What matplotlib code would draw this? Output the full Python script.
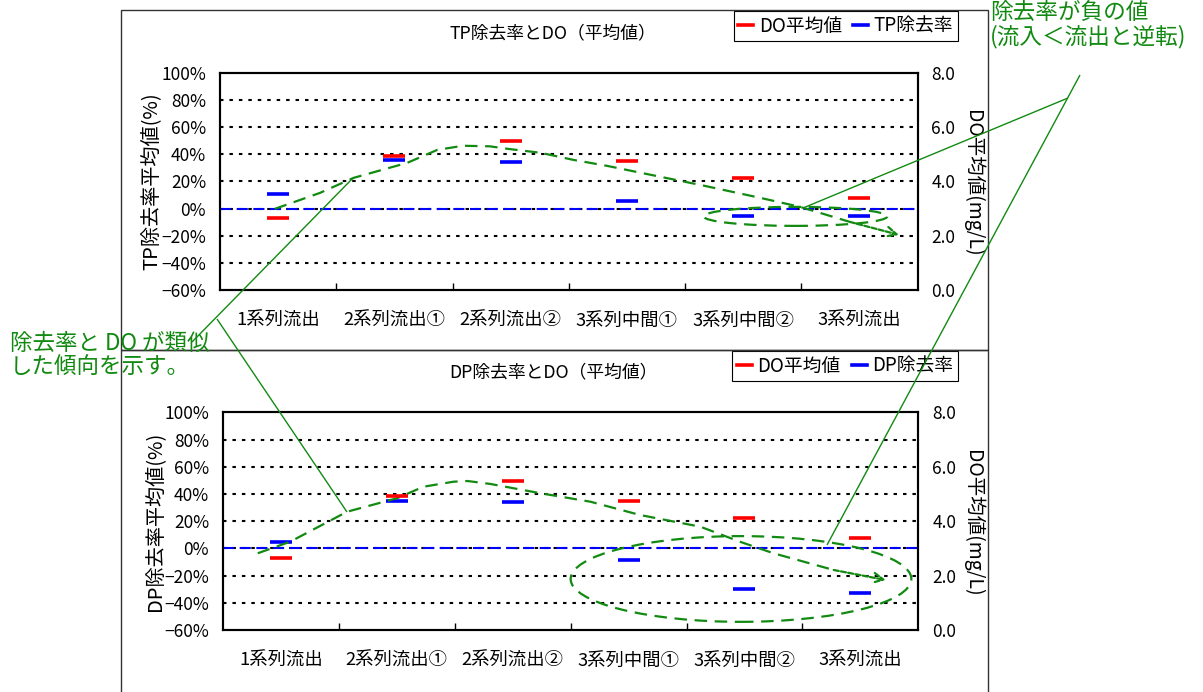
import matplotlib
matplotlib.use('Agg')
import matplotlib.pyplot as plt
from matplotlib.lines import Line2D
from matplotlib.patches import Ellipse, Rectangle
from matplotlib.ticker import FuncFormatter

plt.rcParams['font.family'] = ['Noto Sans CJK JP', 'DejaVu Sans']
plt.rcParams['lines.scale_dashes'] = False

# ---- data -------------------------------------------------------------
categories = ['1系列流出', '2系列流出①', '2系列流出②', '3系列中間①', '3系列中間②', '3系列流出']
do_mean = [2.66, 4.94, 5.48, 4.75, 4.12, 3.38]          # mg/L
tp_removal = [10.4, 36.0, 34.0, 5.8, -5.5, -5.5]         # %
dp_removal = [5.0, 35.0, 34.0, -8.5, -30.0, -32.5]       # %

pct_ticks = list(range(-60, 101, 20))
do_ticks = [0, 2, 4, 6, 8]

# hand-drawn trend sketches (x: category index, y: removal %)
tp_trend_x = [-0.03, 0.36, 0.65, 1.11, 1.37, 1.59, 1.82, 1.97, 2.26, 2.54, 2.83, 3.12, 3.63, 4.15, 4.49, 4.92]
tp_trend_y = [-0.3, 11.5, 22.6, 33.6, 43.2, 46.2, 45.8, 44.0, 41.0, 35.8, 31.4, 26.3, 17.4, 7.8, 1.2, -9.9]
tp_arrow_tip = (5.34, -19.4)
tp_ellipse = dict(xy=(4.45, -5.8), width=1.58, height=14.0)

dp_trend_x = [-0.20, 0.08, 0.57, 1.00, 1.23, 1.49, 1.61, 1.81, 2.24, 2.67, 3.10, 3.62, 3.96, 4.25, 4.77]
dp_trend_y = [-3.6, 4.9, 26.9, 36.8, 45.3, 49.0, 49.5, 47.3, 40.5, 34.3, 24.5, 15.9, 4.9, -3.6, -15.9]
dp_arrow_tip = (5.22, -23.3)
dp_ellipse = dict(xy=(3.97, -22.5), width=2.94, height=63.0)

GREEN = '#128a12'
W, H = 1203, 692

fig = plt.figure(figsize=(W / 100, H / 100), dpi=100)


def frac_rect(left, top, right, bottom):
    return [left / W, 1 - bottom / H, (right - left) / W, (bottom - top) / H]


def pct_fmt(v, _):
    return f'{int(round(v))}%'.replace('-', '\u2212')


def draw_panel(rect, removal, ylabel, tx, ty, tip, ell):
    ax = fig.add_axes(rect)
    ax.set_xlim(-0.5, 5.5)
    ax.set_ylim(-60, 100)
    ax2 = ax.twinx()
    ax2.set_ylim(0, 8)

    ax.set_yticks(pct_ticks)
    ax.yaxis.set_major_formatter(FuncFormatter(pct_fmt))
    ax2.set_yticks(do_ticks)
    ax2.yaxis.set_major_formatter(FuncFormatter(lambda v, _: f'{v:.1f}'))
    ax.tick_params(axis='y', length=0, pad=10, labelsize=12.5)
    ax2.tick_params(axis='y', length=0, pad=10, labelsize=12.5)

    ax.set_xticks([i + 0.5 for i in range(len(categories) - 1)])
    ax.set_xticklabels([])
    ax.set_xticks(range(len(categories)), minor=True)
    ax.set_xticklabels(categories, minor=True)
    ax.tick_params(axis='x', which='major', direction='in', length=5, width=1)
    ax.tick_params(axis='x', which='minor', length=0, pad=16, labelsize=13.2)

    for a in (ax, ax2):
        for s in a.spines.values():
            s.set_linewidth(1.5)
            s.set_color('black')

    for g in pct_ticks[1:-1]:
        ax.axhline(g, color='black', lw=1.5, ls=(0, (2.5, 4.3)), zorder=1)
    ax.axhline(0, color='#0000ff', lw=1.5, ls=(0, (8, 4)), zorder=2)

    ax.plot(range(len(categories)), removal, ls='none', marker='_', ms=16.5,
            mew=2.6, color='#0000ff', zorder=4)
    ax2.plot(range(len(categories)), do_mean, ls='none', marker='_', ms=16.5,
             mew=2.6, color='#ff0000', zorder=4)

    ax.set_ylabel(ylabel, fontsize=14.5, va='center')
    ax.yaxis.set_label_coords(-0.099, 0.5)
    ax2.set_ylabel('DO平均値(mg/L)', rotation=-90, va='center', fontsize=14)
    ax2.yaxis.set_label_coords(1.079, 0.49)

    # trend sketch
    dash = (0, (9, 5.5))
    ax.plot(tx, ty, color=GREEN, lw=1.6, ls=dash, zorder=5, clip_on=False)
    ax.annotate('', xy=tip, xytext=(tx[-1], ty[-1]),
                arrowprops=dict(arrowstyle='->,head_length=0.7,head_width=0.35',
                                color=GREEN, lw=1.6, linestyle='--',
                                shrinkA=0, shrinkB=0), zorder=5)
    ax.add_patch(Ellipse(**ell, fill=False, edgecolor=GREEN, lw=1.6,
                         ls=dash, zorder=5, clip_on=False))
    return ax, ax2


draw_panel(frac_rect(220, 72.7, 917.5, 290), tp_removal,
           'TP除去率平均値(%)', tp_trend_x, tp_trend_y, tp_arrow_tip, tp_ellipse)
draw_panel(frac_rect(223, 412.3, 918.3, 630), dp_removal,
           'DP除去率平均値(%)', dp_trend_x, dp_trend_y, dp_arrow_tip, dp_ellipse)

# overlay in pixel coordinates for frames, titles and callouts
ov = fig.add_axes([0, 0, 1, 1], zorder=10)
ov.set_xlim(0, W)
ov.set_ylim(H, 0)
ov.axis('off')
ov.patch.set_alpha(0)

for top, bottom in ((9.5, 349.5), (349.5, 720)):
    ov.add_patch(Rectangle((120.5, top), 867.5, bottom - top, fill=False,
                           edgecolor='#333333', lw=1.0, clip_on=False))

ov.text(553, 33, 'TP除去率とDO（平均値）', ha='center', va='center', fontsize=12.8)
ov.text(553, 372, 'DP除去率とDO（平均値）', ha='center', va='center', fontsize=12.8)

for top, name in ((11, 'TP除去率'), (351, 'DP除去率')):
    handles = [Line2D([], [], color='#ff0000', lw=2.6),
               Line2D([], [], color='#0000ff', lw=2.6)]
    leg = fig.legend(handles, ['DO平均値', name], loc='upper right',
                     bbox_to_anchor=(958 / W, 1 - top / H), ncol=2, frameon=True,
                     fancybox=False, edgecolor='black', framealpha=1,
                     handlelength=0.8, handletextpad=0.3, columnspacing=0.6,
                     borderpad=0.25, borderaxespad=0, fontsize=13.5)
    leg.get_frame().set_linewidth(0.8)

ov.text(990, 1, '除去率が負の値\n(流入＜流出と逆転)', ha='left', va='top',
        fontsize=16.3, color=GREEN, linespacing=1.05)
ov.text(10, 332, '除去率と DO が類似\nした傾向を示す。', ha='left', va='top',
        fontsize=16.2, color=GREEN, linespacing=0.98)

callouts = [((192, 342), (353, 178)), ((217, 319), (347, 512)),
            ((1080, 75), (827, 545)), ((1068, 98), (803, 208))]
for (x0, y0), (x1, y1) in callouts:
    ov.plot([x0, x1], [y0, y1], color=GREEN, lw=1.0, solid_capstyle='butt')

fig.savefig('out.png', dpi=100)
